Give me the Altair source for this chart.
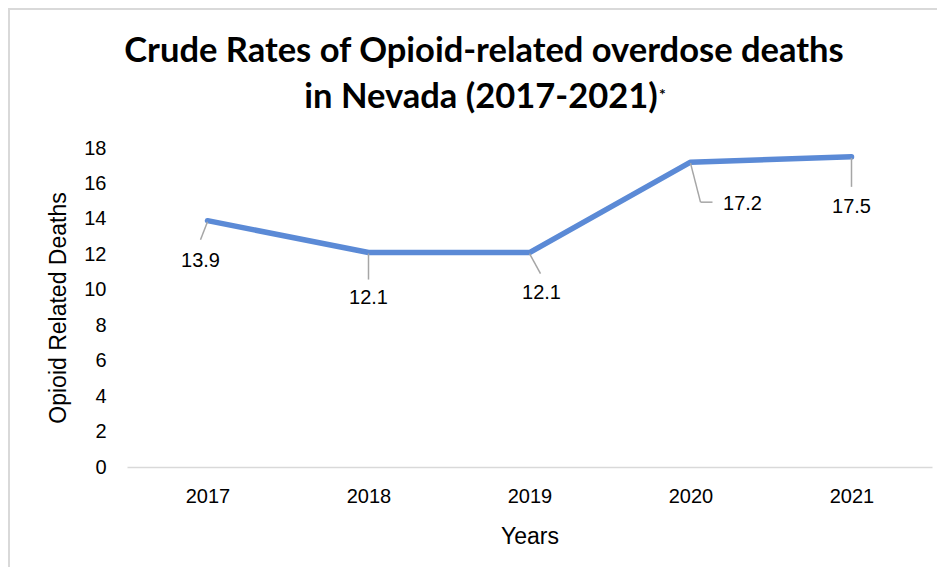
import altair as alt
import pandas as pd

years = ["2017", "2018", "2019", "2020", "2021"]
rates = [13.9, 12.1, 12.1, 17.2, 17.5]
y_ticks = [0, 2, 4, 6, 8, 10, 12, 14, 16, 18]

title_line1 = "Crude Rates of Opioid-related overdose deaths"
title_line2 = "in Nevada (2017-2021)"
x_title = "Years"
y_title = "Opioid Related Deaths"

df = pd.DataFrame({"Year": years, "Rate": rates})
df["Label"] = [f"{v:.1f}" for v in rates]

FONT = "Liberation Sans"
TITLE_FONT = "Lato"
LINE_COLOR = "#5B8AD6"
LEADER = "#A6A6A6"

x_enc = alt.X("Year:N", sort=years, title=x_title,
              scale=alt.Scale(type="point", padding=0.5),
              axis=alt.Axis(labelAngle=0, labelFontSize=20, labelFont=FONT, labelColor="#000000",
                            labelPadding=19, ticks=False, domainColor="#D9D9D9", domainWidth=1.5,
                            titleFontSize=23, titleFont=FONT, titleFontWeight="normal",
                            titleColor="#000000", titlePadding=19, grid=False))
y_enc = alt.Y("Rate:Q", title=y_title,
              scale=alt.Scale(domain=[0, 18], nice=False),
              axis=alt.Axis(values=y_ticks, labelFontSize=20, labelFont=FONT, labelColor="#000000",
                            labelPadding=21, ticks=False, domain=False, grid=False,
                            labelOverlap=False, labelFlush=False,
                            titleFontSize=23, titleFont=FONT, titleFontWeight="normal",
                            titleColor="#000000", titlePadding=13))

base = alt.Chart(df)

line = base.mark_line(color=LINE_COLOR, strokeWidth=5.5, strokeCap="round", strokeJoin="round").encode(
    x=x_enc, y=y_enc)

# label placement (style): per year text offsets and leader segments
label_style = {
    "2017": {"dx": -7, "dy": 40, "segs": [(0, 1, -7, 19)]},
    "2018": {"dx": 0, "dy": 45, "segs": [(0, 1, 0, 27)]},
    "2019": {"dx": 12, "dy": 40, "segs": [(0, 1, 11, 21)]},
    "2020": {"dx": 52, "dy": 42, "segs": [(0, 1, 10, 40), (10, 40, 22, 40)]},
    "2021": {"dx": 0, "dy": 50, "segs": [(0, 1, 0, 30)]},
}

layers = [line]
for yr, st in label_style.items():
    sub = base.transform_filter(alt.datum.Year == yr)
    for (xo, yo, x2o, y2o) in st["segs"]:
        layers.append(sub.mark_rule(color=LEADER, strokeWidth=1.5,
                                    xOffset=xo, yOffset=yo, x2Offset=x2o, y2Offset=y2o).encode(
            x=x_enc, y=y_enc, x2=alt.X2("Year:N"), y2=alt.Y2("Rate:Q")))
    layers.append(sub.mark_text(font=FONT, fontSize=20, color="#000000", baseline="middle",
                                align="center", dx=st["dx"], dy=st["dy"]).encode(
        x=x_enc, y=y_enc, text="Label:N"))

deco = alt.Chart(pd.DataFrame({"a": [0]}))
border = deco.mark_rect(fillOpacity=0, stroke="#D9D9D9", strokeWidth=2).encode(
    x=alt.value(-118), x2=alt.value(950), y=alt.value(-139), y2=alt.value(800))
t1 = deco.mark_text(text=title_line1, font=TITLE_FONT, fontSize=34.5, fontWeight="bold", color="#000000",
                    align="center", baseline="alphabetic").encode(x=alt.value(357), y=alt.value(-86))
t2 = deco.mark_text(text=title_line2, font=TITLE_FONT, fontSize=34.5, fontWeight="bold", color="#000000",
                    align="center", baseline="alphabetic").encode(x=alt.value(354), y=alt.value(-40))
star = deco.mark_text(text="*", font=TITLE_FONT, fontSize=16, fontWeight="bold", color="#000000",
                      align="left", baseline="middle").encode(x=alt.value(532), y=alt.value(-53))

chart = alt.layer(border, *layers, t1, t2, star).properties(
    width=805, height=319,
    padding={"left": 119, "top": 140, "right": 5, "bottom": 100},
    autosize=alt.AutoSizeParams(type="none"),
    background="white",
).configure_view(stroke=None)

chart.save("out.html", embed_options={"renderer": "svg", "actions": False})
